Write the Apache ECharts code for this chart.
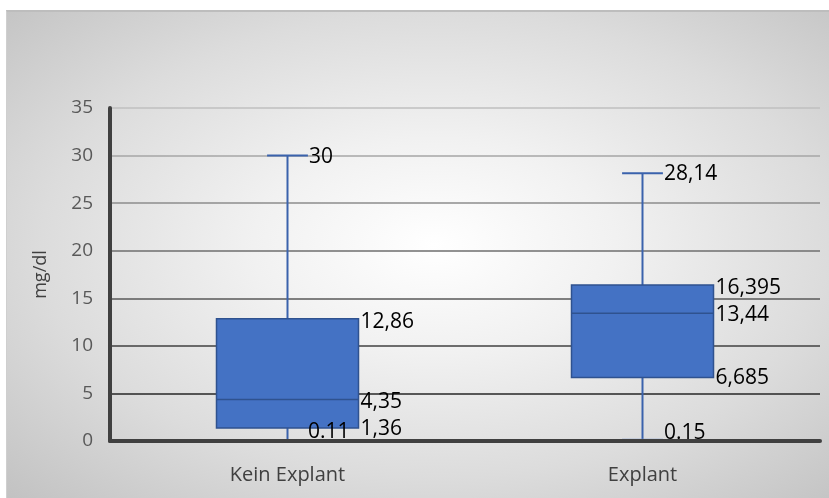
<!DOCTYPE html>
<html>
<head>
<meta charset="utf-8">
<script src="https://cdn.jsdelivr.net/npm/echarts@6/dist/echarts.min.js"></script>
<style>
  html, body { margin: 0; padding: 0; background: #ffffff; }
  #frame {
    position: absolute; left: 6px; top: 10px; width: 823px; height: 488px;
    box-sizing: border-box;
    border-top: 2px solid #bdbdbd; border-left: 1px solid #cfcfcf;
    background: radial-gradient(ellipse at 52% 48%, #ffffff 0%, #f1f1f1 30%, #dcdcdc 65%, #c2c2c2 100%);
  }
  #chart { position: absolute; left: 0; top: 0; width: 829px; height: 498px; }
</style>
</head>
<body>
<div id="frame"></div>
<div id="chart"></div>
<script>
// Serum values (mg/dl) per group: five-number summary
const categories = ['Kein Explant', 'Explant'];
const minimum   = [0.11, 0.15];
const quartile1 = [1.36, 6.685];
const median    = [4.35, 13.44];
const quartile3 = [12.86, 16.395];
const maximum   = [30, 28.14];
const yTicks    = [0, 5, 10, 15, 20, 25, 30, 35];

const FONT = '"Open Sans", sans-serif';
const fmt = (v, sep) => String(v).replace('.', sep);

const boxData = categories.map((c, i) =>
  [i, minimum[i], quartile1[i], median[i], quartile3[i], maximum[i]]);

function renderBox(params, api) {
  const i = api.value(0);
  const v = [1, 2, 3, 4, 5].map(k => api.value(k));
  const y = v.map(val => api.coord([i, val])[1]);
  const cx = api.coord([i, 0])[0];
  const band = api.size([1, 0])[0];
  const bw = band * 0.4;
  const cw = band * 0.115;
  const left = cx - bw / 2, right = cx + bw / 2;
  const whisker = { stroke: '#3A62AC', lineWidth: 2 };
  const labelFont = '21px ' + FONT;
  const txt = (text, x, yy, align) => ({
    type: 'text', z2: 20,
    style: { text, x, y: yy, fill: '#000', font: labelFont, align: align || 'left', verticalAlign: 'middle' }
  });
  const minLeft = Math.abs(y[0] - y[1]) < 16;
  return {
    type: 'group',
    children: [
      { type: 'line', shape: { x1: cx, y1: y[4], x2: cx, y2: y[3] }, style: whisker },
      { type: 'line', shape: { x1: cx, y1: y[1], x2: cx, y2: y[0] }, style: whisker },
      { type: 'line', shape: { x1: cx - cw / 2, y1: y[4], x2: cx + cw / 2, y2: y[4] }, style: whisker },
      { type: 'line', shape: { x1: cx - cw / 2, y1: y[0], x2: cx + cw / 2, y2: y[0] }, style: { stroke: '#7d97cc', lineWidth: 1.5 } },
      { type: 'rect', shape: { x: left, y: y[3], width: bw, height: y[1] - y[3] },
        style: { fill: '#4472C4', stroke: '#2F528F', lineWidth: 1.5 } },
      { type: 'line', shape: { x1: left, y1: y[2], x2: right, y2: y[2] }, style: { stroke: '#2F528F', lineWidth: 1.5 } },
      txt(fmt(v[4], ','), cx + cw / 2 + 1, y[4] + 1),
      txt(fmt(v[3], ','), right + 2, y[3] + 3),
      txt(fmt(v[2], ','), right + 2, y[2] + 2),
      txt(fmt(v[1], ','), right + 2, y[1] + 1),
      minLeft ? txt(fmt(v[0], '.'), right - 9, y[0] - 8, 'right')
              : txt(fmt(v[0], '.'), cx + cw / 2 + 1, y[0] - 7)
    ]
  };
}

const gridColors = ['#262626', '#262626', '#404040', '#595959', '#6e6e6e', '#8c8c8c', '#a6a6a6', '#bfbfbf'];

const chart = echarts.init(document.getElementById('chart'), null, { renderer: 'canvas' });
chart.setOption({
  backgroundColor: 'transparent',
  animation: false,
  grid: { left: 110, right: 9, top: 108, bottom: 57 },
  xAxis: {
    type: 'category',
    data: categories,
    axisTick: { show: false },
    axisLine: { lineStyle: { color: '#404040', width: 4 } },
    axisLabel: { color: '#404040', fontSize: 20, fontFamily: FONT, margin: 24 },
    z: 5
  },
  yAxis: {
    type: 'value',
    min: yTicks[0], max: yTicks[yTicks.length - 1], interval: 5,
    name: 'mg/dl',
    nameLocation: 'middle',
    nameGap: 60,
    nameTextStyle: { color: '#404040', fontSize: 18, fontFamily: FONT },
    axisLine: { show: true, lineStyle: { color: '#404040', width: 4 } },
    axisTick: { show: false },
    axisLabel: { color: '#595959', fontSize: 19, fontFamily: FONT, margin: 17 },
    splitLine: { lineStyle: { color: gridColors, width: 1.6 } }
  },
  series: [{
    type: 'custom',
    renderItem: renderBox,
    encode: { x: 0, y: [1, 2, 3, 4, 5] },
    data: boxData,
    clip: false
  }]
});
</script>
</body>
</html>
